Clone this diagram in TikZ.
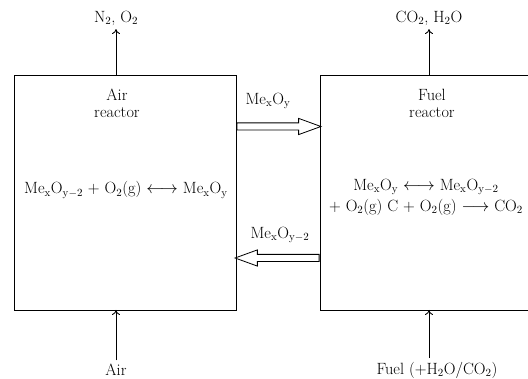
\documentclass[tikz,border=0pt]{standalone}
\usetikzlibrary{calc, positioning, arrows.meta, shapes.arrows}

\newcommand{\mexo}[1]{Me$_{\mathrm{x}}$O$_{\mathrm{#1}}$}

\begin{document}
\begin{tikzpicture}[x=1pt, y=-1pt, line width=0.9pt, >={To[length=5pt,width=8pt]}, font=\fontsize{16.3}{17}\selectfont]
        \useasboundingbox (0,0) rectangle (528,379);
        \clip (0,0) rectangle (528,379);
        \tikzset{
            reactor/.style={draw, minimum width=222pt, minimum height=235pt, inner sep=0pt},
            eqline/.style={inner ysep=0pt},
            flowarrow/.style={draw, single arrow, single arrow tip angle=40, single arrow head extend=4.5pt,
                inner xsep=0pt, inner ysep=3.2pt, minimum height=84pt, line width=0.8pt},
        }
        \node[reactor] (air) at (125,192.5) {};
        \node[reactor] (fuel) at (431,192.5) {};
        \node[align=center] (airlbl) at (117,103) {Air\\reactor};
        \node[align=center] (fuellbl) at (432,103) {Fuel\\reactor};
        \node[eqline] (aireq) at (126,190) {\mexo{y-2} + O$_2$(g) $\longleftrightarrow$ \mexo{y}};
        \node[eqline, align=center] (fueleq) at (426,197) {\mexo{y} $\longleftrightarrow$ \mexo{y-2}\\[4pt]
            + O$_2$(g) C + O$_2$(g) $\longrightarrow$ CO$_2$};

        % solid circulation between reactors
        \node[flowarrow, anchor=tail] (oxid) at (236.5,126.5) {};
        \node[flowarrow, anchor=tail, shape border rotate=180] (red) at (319.5,258) {};
        \node (oxidlbl) at (268,101) {\mexo{y}};
        \node (redlbl) at (280,235) {\mexo{y-2}};

        % gas streams
        \node (airout) at (116,18) {N$_2$, O$_2$};
        \node (fuelout) at (429,18) {CO$_2$, H$_2$O};
        \node (airin) at (116,370) {Air};
        \node (fuelin) at (437,370) {Fuel (+H$_2$O/CO$_2$)};
        \coordinate (airtop) at (116,75);
        \coordinate (fueltop) at (429,75);
        \coordinate (airbot) at (116,310);
        \coordinate (fuelbot) at (429,310);

        \draw[->] (airtop) -- (airout);
        \draw[->] (fueltop) -- (fuelout);
        \draw[->] (airin) -- (airbot);
        \draw[->] (fuelin.north -| fuelbot) -- (fuelbot);
\end{tikzpicture}
\end{document}
